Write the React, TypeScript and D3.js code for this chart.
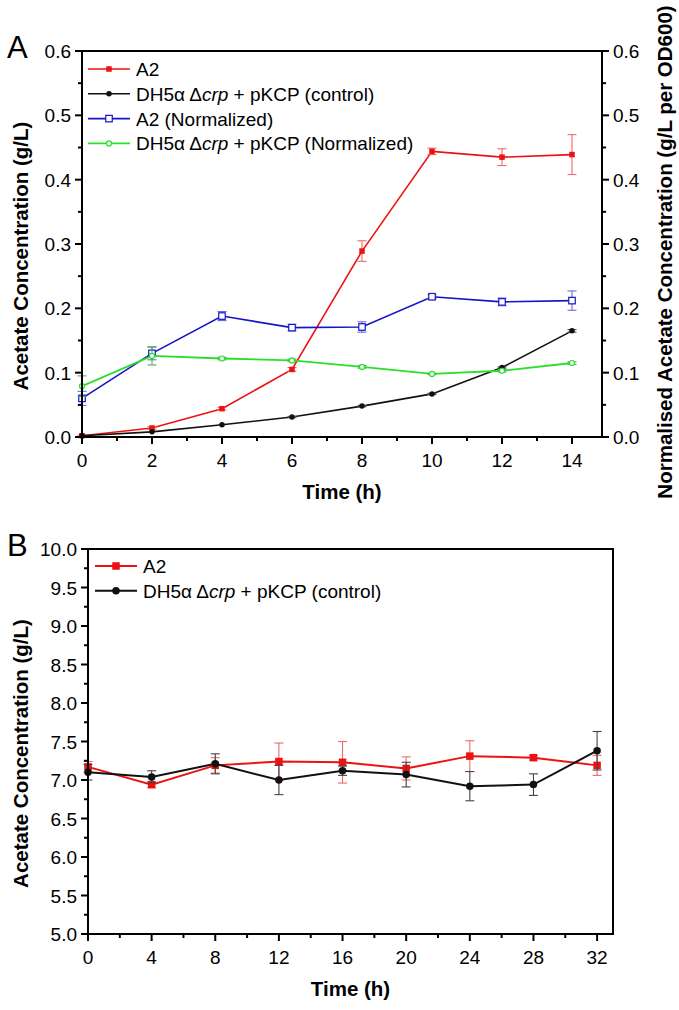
import React from 'react';
import * as d3 from 'd3';

// ---------- Panel A data ----------
const timesA = [0, 2, 4, 6, 8, 10, 12, 14];
const a2Conc = [0.002, 0.014, 0.044, 0.105, 0.289, 0.444, 0.435, 0.439];
const a2ConcErr = [0.001, 0.002, 0.002, 0.003, 0.016, 0.005, 0.013, 0.031];
const ctrlConc = [0.002, 0.008, 0.019, 0.031, 0.048, 0.067, 0.108, 0.165];
const ctrlConcErr = [0.0, 0.0, 0.0, 0.001, 0.001, 0.001, 0.001, 0.002];
const a2Norm = [0.060, 0.130, 0.188, 0.170, 0.171, 0.218, 0.210, 0.212];
const a2NormErr = [0.011, 0.010, 0.007, 0.005, 0.008, 0.003, 0.006, 0.015];
const ctrlNorm = [0.079, 0.126, 0.122, 0.119, 0.109, 0.098, 0.103, 0.115];
const ctrlNormErr = [0.016, 0.014, 0.002, 0.002, 0.002, 0.001, 0.002, 0.002];
const xTicksA = [0, 2, 4, 6, 8, 10, 12, 14];
const xMinorA = [1, 3, 5, 7, 9, 11, 13];
const yTicksA = [0, 0.1, 0.2, 0.3, 0.4, 0.5, 0.6];
const yMinorA = [0.05, 0.15, 0.25, 0.35, 0.45, 0.55];
const legendA = ['A2', 'DH5α Δcrp + pKCP (control)', 'A2 (Normalized)', 'DH5α Δcrp + pKCP (Normalized)'];

// ---------- Panel B data ----------
const timesB = [0, 4, 8, 12, 16, 20, 24, 28, 32];
const a2B = [7.17, 6.94, 7.19, 7.24, 7.23, 7.15, 7.31, 7.29, 7.19];
const a2BErr = [0.07, 0.04, 0.10, 0.24, 0.27, 0.15, 0.20, 0.03, 0.13];
const ctrlB = [7.10, 7.04, 7.21, 7.00, 7.12, 7.07, 6.92, 6.94, 7.38];
const ctrlBErr = [0.10, 0.08, 0.13, 0.19, 0.06, 0.16, 0.19, 0.14, 0.25];
const xTicksB = [0, 4, 8, 12, 16, 20, 24, 28, 32];
const xMinorB = [2, 6, 10, 14, 18, 22, 26, 30];
const yTicksB = [5, 5.5, 6, 6.5, 7, 7.5, 8, 8.5, 9, 9.5, 10];
const yMinorB = [5.25, 5.75, 6.25, 6.75, 7.25, 7.75, 8.25, 8.75, 9.25, 9.75];
const legendB = ['A2', 'DH5α Δcrp + pKCP (control)'];

const FONT = '"Liberation Sans", Arial, Helvetica, sans-serif';

type MarkerKind = 'sq' | 'circ' | 'osq' | 'ocirc';
type Series = {
  x: number[]; y: number[]; err: number[];
  color: string; errColor: string; marker: MarkerKind; size: number; lw: number;
};

function Marker({ kind, cx, cy, color, size }: { kind: MarkerKind; cx: number; cy: number; color: string; size: number }) {
  const h = size / 2;
  if (kind === 'sq') return <rect x={cx - h} y={cy - h} width={size} height={size} fill={color} />;
  if (kind === 'circ') return <circle cx={cx} cy={cy} r={h} fill={color} />;
  if (kind === 'osq') return <rect x={cx - h} y={cy - h} width={size} height={size} fill="#fff" stroke={color} strokeWidth={1.2} />;
  return <circle cx={cx} cy={cy} r={h} fill="#fff" stroke={color} strokeWidth={1.2} />;
}

function LegendLabel({ text }: { text: string }) {
  const idx = text.indexOf('crp');
  if (idx < 0) return <>{text}</>;
  return (
    <>
      {text.slice(0, idx)}
      <tspan fontStyle="italic">crp</tspan>
      {text.slice(idx + 3)}
    </>
  );
}

function SeriesMarks({ s, xs, ys }: { s: Series; xs: d3.ScaleLinear<number, number>; ys: d3.ScaleLinear<number, number> }) {
  const line = d3.line<number>().x((_, i) => xs(s.x[i])).y((d) => ys(d));
  return (
    <g>
      <path d={line(s.y) || ''} fill="none" stroke={s.color} strokeWidth={s.lw} />
      {s.y.map((v, i) => {
        const e = s.err[i];
        if (e <= 0) return null;
        const cx = xs(s.x[i]);
        const y1 = ys(v + e), y2 = ys(v - e);
        return (
          <g key={'e' + i} stroke={s.errColor} strokeWidth={1.1}>
            <line x1={cx} x2={cx} y1={y1} y2={y2} />
            <line x1={cx - 4.5} x2={cx + 4.5} y1={y1} y2={y1} />
            <line x1={cx - 4.5} x2={cx + 4.5} y1={y2} y2={y2} />
          </g>
        );
      })}
      {s.y.map((v, i) => (
        <Marker key={'m' + i} kind={s.marker} cx={xs(s.x[i])} cy={ys(v)} color={s.color} size={s.size} />
      ))}
    </g>
  );
}

type PanelProps = {
  letter: string;
  left: number; right: number; top: number; bottom: number;
  xDomain: [number, number]; yDomain: [number, number];
  xTicks: number[]; xMinor: number[]; yTicks: number[]; yMinor: number[];
  yFmt: (v: number) => string;
  series: Series[]; legend: string[];
  legendX: number; legendY: number;
  rightAxis?: { title: string };
  yTitle: string;
};

function Panel(p: PanelProps) {
  const xs = d3.scaleLinear().domain(p.xDomain).range([p.left, p.right]);
  const ys = d3.scaleLinear().domain(p.yDomain).range([p.bottom, p.top]);
  const maj = 7, mnr = 4;
  const tickFont = 19;
  const cy = (p.top + p.bottom) / 2 + 12;
  return (
    <g fontFamily={FONT}>
      {p.series.map((s, i) => <SeriesMarks key={i} s={s} xs={xs} ys={ys} />)}
      <rect x={p.left} y={p.top} width={p.right - p.left} height={p.bottom - p.top} fill="none" stroke="#000" strokeWidth={2} />
      {p.xTicks.map((t) => (
        <g key={'xt' + t}>
          <line x1={xs(t)} x2={xs(t)} y1={p.bottom} y2={p.bottom + maj} stroke="#000" strokeWidth={2} />
          <text x={xs(t)} y={p.bottom + 30} textAnchor="middle" fontSize={tickFont}>{t}</text>
        </g>
      ))}
      {p.xMinor.map((t) => (
        <line key={'xm' + t} x1={xs(t)} x2={xs(t)} y1={p.bottom} y2={p.bottom + mnr} stroke="#000" strokeWidth={2} />
      ))}
      {p.yTicks.map((t) => (
        <g key={'yt' + t}>
          <line x1={p.left - maj} x2={p.left} y1={ys(t)} y2={ys(t)} stroke="#000" strokeWidth={2} />
          <text x={p.left - 11} y={ys(t) + 7} textAnchor="end" fontSize={tickFont}>{p.yFmt(t)}</text>
        </g>
      ))}
      {p.yMinor.map((t) => (
        <line key={'ym' + t} x1={p.left - mnr} x2={p.left} y1={ys(t)} y2={ys(t)} stroke="#000" strokeWidth={2} />
      ))}
      {p.rightAxis && (
        <g>
          {p.yTicks.map((t) => (
            <g key={'rt' + t}>
              <line x1={p.right} x2={p.right + maj} y1={ys(t)} y2={ys(t)} stroke="#000" strokeWidth={2} />
              <text x={p.right + 11} y={ys(t) + 7} textAnchor="start" fontSize={tickFont}>{p.yFmt(t)}</text>
            </g>
          ))}
          {p.yMinor.map((t) => (
            <line key={'rm' + t} x1={p.right} x2={p.right + mnr} y1={ys(t)} y2={ys(t)} stroke="#000" strokeWidth={2} />
          ))}
          <text transform={`translate(${p.right + 70},${cy - 4}) rotate(-90)`} textAnchor="middle" fontSize={20.5} fontWeight="bold">
            {p.rightAxis.title}
          </text>
        </g>
      )}
      <text x={(p.left + p.right) / 2} y={p.bottom + 62} textAnchor="middle" fontSize={20.5} fontWeight="bold">Time (h)</text>
      <text transform={`translate(28,${cy}) rotate(-90)`} textAnchor="middle" fontSize={20.5} fontWeight="bold">{p.yTitle}</text>
      <text x={7} y={p.top + 7} fontSize={31}>{p.letter}</text>
      {p.legend.map((lab, i) => {
        const s = p.series[i];
        const ly = p.legendY + i * 24.8;
        return (
          <g key={'lg' + i}>
            <line x1={p.legendX} x2={p.legendX + 42} y1={ly} y2={ly} stroke={s.color} strokeWidth={s.lw} />
            <Marker kind={s.marker} cx={p.legendX + 21} cy={ly} color={s.color} size={s.size} />
            <text x={p.legendX + 48} y={ly + 7} fontSize={19}><LegendLabel text={lab} /></text>
          </g>
        );
      })}
    </g>
  );
}

export default function App() {
  const seriesA: Series[] = [
    { x: timesA, y: a2Conc, err: a2ConcErr, color: '#ee1111', errColor: '#ee6a6a', marker: 'sq', size: 5.5, lw: 1.6 },
    { x: timesA, y: ctrlConc, err: ctrlConcErr, color: '#111111', errColor: '#555555', marker: 'circ', size: 5.5, lw: 1.6 },
    { x: timesA, y: a2Norm, err: a2NormErr, color: '#1414c8', errColor: '#6a6ae0', marker: 'osq', size: 6.5, lw: 1.6 },
    { x: timesA, y: ctrlNorm, err: ctrlNormErr, color: '#28e028', errColor: '#5aaa5a', marker: 'ocirc', size: 5, lw: 1.8 },
  ];
  const seriesB: Series[] = [
    { x: timesB, y: a2B, err: a2BErr, color: '#ee1111', errColor: '#ee6a6a', marker: 'sq', size: 7.5, lw: 2 },
    { x: timesB, y: ctrlB, err: ctrlBErr, color: '#111111', errColor: '#444444', marker: 'circ', size: 7.5, lw: 2 },
  ];
  return (
    <svg width={679} height={1010} style={{ display: 'block', position: 'absolute', left: 0, top: 0, background: '#fff' }}>
      <rect width={679} height={1010} fill="#fff" />
      <Panel
        letter="A" left={82} right={602} top={51} bottom={437}
        xDomain={[0, 14.857]} yDomain={[0, 0.6]}
        xTicks={xTicksA} xMinor={xMinorA} yTicks={yTicksA} yMinor={yMinorA}
        yFmt={d3.format('.1f')} series={seriesA} legend={legendA}
        legendX={88} legendY={69}
        rightAxis={{ title: 'Normalised Acetate Concentration (g/L per OD600)' }}
        yTitle="Acetate Concentration (g/L)"
      />
      <Panel
        letter="B" left={88} right={613} top={549} bottom={934}
        xDomain={[0, 33]} yDomain={[5, 10]}
        xTicks={xTicksB} xMinor={xMinorB} yTicks={yTicksB} yMinor={yMinorB}
        yFmt={d3.format('.1f')} series={seriesB} legend={legendB}
        legendX={95} legendY={566}
        yTitle="Acetate Concentration (g/L)"
      />
    </svg>
  );
}
